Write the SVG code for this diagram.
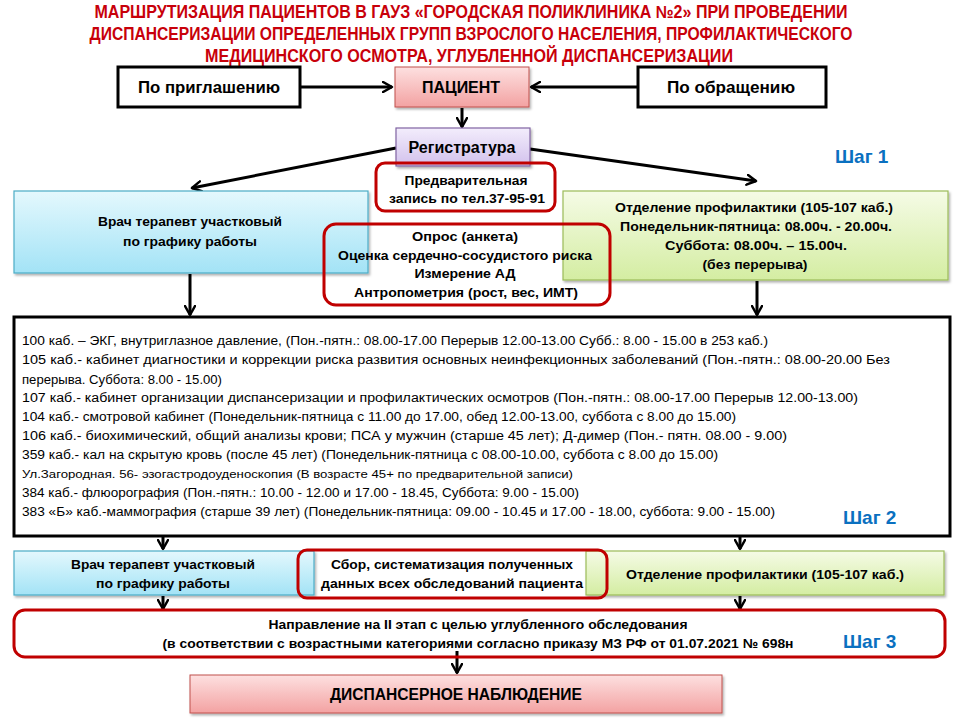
<svg xmlns="http://www.w3.org/2000/svg" width="960" height="720" viewBox="0 0 960 720">
<defs>
<style>
text{font-family:"Liberation Sans","Noto Sans",Arial,sans-serif;fill:#000}
.title{font-size:17.5px;font-weight:bold;fill:#c8000a;text-anchor:middle}
.b{font-weight:bold;font-size:13.5px;text-anchor:middle}
.big{font-weight:bold;font-size:16px;text-anchor:middle}
.list{font-size:12.5px}
.step{font-weight:bold;font-size:19px;fill:#0a70c0}
.blk{fill:#fff;stroke:#000;stroke-width:3}
.red{fill:none;stroke:#c00000;stroke-width:3}
.pink{fill:url(#gPink);stroke:#c0504d;stroke-width:1}
.lav{fill:url(#gLav);stroke:#8064a2;stroke-width:1.2}
.blue{fill:url(#gBlue);stroke:#4bacc6;stroke-width:1.2}
.green{fill:url(#gGreen);stroke:#9bbb59;stroke-width:1.2}
.con{stroke:#000;stroke-width:3;fill:none;marker-end:url(#arr)}
</style>
<linearGradient id="gPink" x1="0" y1="0" x2="0" y2="1"><stop offset="0" stop-color="#fde0e0"/><stop offset="1" stop-color="#f3a2a2"/></linearGradient>
<linearGradient id="gLav" x1="0" y1="0" x2="0" y2="1"><stop offset="0" stop-color="#f3edfc"/><stop offset="1" stop-color="#d2c1ec"/></linearGradient>
<linearGradient id="gBlue" x1="0" y1="0" x2="0" y2="1"><stop offset="0" stop-color="#e4f8fd"/><stop offset="1" stop-color="#a3e3f6"/></linearGradient>
<linearGradient id="gGreen" x1="0" y1="0" x2="0" y2="1"><stop offset="0" stop-color="#f5fbe6"/><stop offset="1" stop-color="#d4eda2"/></linearGradient>
<filter id="sh" x="-5%" y="-10%" width="110%" height="130%"><feDropShadow dx="1.5" dy="2" stdDeviation="1.2" flood-color="#000" flood-opacity="0.3"/></filter>
<marker id="arr" viewBox="0 0 12 12" refX="10" refY="6" markerWidth="12" markerHeight="12" markerUnits="userSpaceOnUse" orient="auto">
<path d="M1,1 L10,6 L1,11" fill="none" stroke="#000" stroke-width="2.5" stroke-linecap="round" stroke-linejoin="round"/>
</marker>
</defs>
<rect width="960" height="720" fill="#fff"/>

<g id="title">
<text class="title" x="471" y="18" textLength="753" lengthAdjust="spacingAndGlyphs">МАРШРУТИЗАЦИЯ ПАЦИЕНТОВ В ГАУЗ «ГОРОДСКАЯ ПОЛИКЛИНИКА №2» ПРИ ПРОВЕДЕНИИ</text>
<text class="title" x="471" y="40" textLength="763" lengthAdjust="spacingAndGlyphs">ДИСПАНСЕРИЗАЦИИ ОПРЕДЕЛЕННЫХ ГРУПП ВЗРОСЛОГО НАСЕЛЕНИЯ, ПРОФИЛАКТИЧЕСКОГО</text>
<text class="title" x="469" y="62" textLength="528" lengthAdjust="spacingAndGlyphs">МЕДИЦИНСКОГО ОСМОТРА, УГЛУБЛЕННОЙ ДИСПАНСЕРИЗАЦИИ</text>
</g>

<g id="connectors">
<line class="con" x1="300" y1="87" x2="392" y2="87"/>
<line class="con" x1="638" y1="87" x2="531" y2="87"/>
<line class="con" x1="462" y1="108" x2="462" y2="127"/>
<line class="con" x1="396" y1="148" x2="192" y2="188"/>
<line class="con" x1="530" y1="149" x2="756" y2="181"/>
<line class="con" x1="190" y1="274" x2="190" y2="315"/>
<line class="con" x1="757" y1="281" x2="757" y2="315"/>
<line class="con" x1="163" y1="537" x2="163" y2="549"/>
<line class="con" x1="740" y1="537" x2="740" y2="549"/>
<line class="con" x1="163" y1="596" x2="163" y2="609"/>
<line class="con" x1="740" y1="596" x2="740" y2="609"/>
<line class="con" x1="457" y1="651" x2="457" y2="673"/>
</g>

<g id="invite">
<rect class="blk" x="118" y="67" width="182" height="40"/>
<text class="big" x="209" y="93" textLength="142" lengthAdjust="spacingAndGlyphs">По приглашению</text>
</g>
<g id="patient">
<rect class="pink" x="395" y="67" width="134" height="40" filter="url(#sh)"/>
<text class="big" x="461" y="93" textLength="78" lengthAdjust="spacingAndGlyphs">ПАЦИЕНТ</text>
</g>
<g id="appeal">
<rect class="blk" x="638" y="67" width="188" height="40"/>
<text class="big" x="731" y="93" textLength="128" lengthAdjust="spacingAndGlyphs">По обращению</text>
</g>

<g id="registry">
<rect class="lav" x="396" y="128" width="134" height="38" filter="url(#sh)"/>
<text class="big" x="462" y="153" textLength="107" lengthAdjust="spacingAndGlyphs">Регистратура</text>
</g>

<g id="step1"><text class="step" x="835" y="163">Шаг 1</text></g>

<g id="doctor1">
<rect class="blue" x="14" y="191" width="354" height="82" filter="url(#sh)"/>
<text class="b" x="190" y="226" textLength="184" lengthAdjust="spacingAndGlyphs">Врач терапевт участковый</text>
<text class="b" x="190" y="246" textLength="134" lengthAdjust="spacingAndGlyphs">по графику работы</text>
</g>

<g id="prevention1">
<rect class="green" x="563" y="191" width="385" height="89" filter="url(#sh)"/>
<text class="b" x="754" y="212" textLength="278" lengthAdjust="spacingAndGlyphs">Отделение профилактики (105-107 каб.)</text>
<text class="b" x="756" y="231" textLength="272" lengthAdjust="spacingAndGlyphs">Понедельник-пятница: 08.00ч. - 20.00ч.</text>
<text class="b" x="756" y="250" textLength="182" lengthAdjust="spacingAndGlyphs">Суббота:  08.00ч. – 15.00ч.</text>
<text class="b" x="755" y="269" textLength="105" lengthAdjust="spacingAndGlyphs">(без перерыва)</text>
</g>

<g id="appointment">
<rect class="red" x="376" y="163" width="179" height="48" rx="9"/>
<text class="b" x="466" y="185" textLength="123" lengthAdjust="spacingAndGlyphs">Предварительная</text>
<text class="b" x="467" y="203" textLength="156" lengthAdjust="spacingAndGlyphs">запись по тел.37-95-91</text>
</g>

<g id="survey">
<rect class="red" x="324" y="224" width="286" height="81" rx="12"/>
<text class="b" x="465" y="241" textLength="106" lengthAdjust="spacingAndGlyphs">Опрос (анкета)</text>
<text class="b" x="465" y="260" textLength="254" lengthAdjust="spacingAndGlyphs">Оценка сердечно-сосудистого риска</text>
<text class="b" x="465" y="278" textLength="101" lengthAdjust="spacingAndGlyphs">Измерение АД</text>
<text class="b" x="466" y="297" textLength="224" lengthAdjust="spacingAndGlyphs">Антропометрия (рост, вес, ИМТ)</text>
</g>

<g id="cabinets">
<rect class="blk" x="14" y="317" width="936" height="219"/>
<text class="list" x="22" y="345" textLength="746" lengthAdjust="spacingAndGlyphs">100 каб. – ЭКГ, внутриглазное давление, (Пон.-пятн.: 08.00-17.00 Перерыв 12.00-13.00  Субб.: 8.00 - 15.00 в 253 каб.)</text>
<text class="list" x="22" y="364" textLength="868" lengthAdjust="spacingAndGlyphs">105 каб.- кабинет диагностики и коррекции риска развития основных неинфекционных заболеваний (Пон.-пятн.: 08.00-20.00 Без</text>
<text class="list" x="22" y="384" textLength="200" lengthAdjust="spacingAndGlyphs">перерыва. Суббота: 8.00 - 15.00)</text>
<text class="list" x="22" y="402" textLength="836" lengthAdjust="spacingAndGlyphs">107 каб.- кабинет организации диспансеризации и профилактических осмотров (Пон.-пятн.: 08.00-17.00 Перерыв 12.00-13.00)</text>
<text class="list" x="22" y="421" textLength="714" lengthAdjust="spacingAndGlyphs">104 каб.- смотровой кабинет (Понедельник-пятница с 11.00 до 17.00, обед 12.00-13.00,  суббота с 8.00 до 15.00)</text>
<text class="list" x="22" y="440" textLength="765" lengthAdjust="spacingAndGlyphs">106 каб.- биохимический, общий анализы крови; ПСА у мужчин (старше 45 лет); Д-димер (Пон.- пятн. 08.00 - 9.00)</text>
<text class="list" x="22" y="459" textLength="696" lengthAdjust="spacingAndGlyphs">359 каб.- кал на скрытую кровь (после 45 лет) (Понедельник-пятница с 08.00-10.00,  суббота с 8.00 до 15.00)</text>
<text class="list" x="22" y="478" textLength="551" lengthAdjust="spacingAndGlyphs" style="font-size:11.5px">Ул.Загородная. 56-  эзогастродоуденоскопия (В возрасте 45+ по предварительной записи)</text>
<text class="list" x="22" y="497" textLength="557" lengthAdjust="spacingAndGlyphs">384 каб.- флюорография (Пон.-пятн.: 10.00 - 12.00 и 17.00 - 18.45, Суббота: 9.00 - 15.00)</text>
<text class="list" x="22" y="516" textLength="753" lengthAdjust="spacingAndGlyphs">383 «Б» каб.-маммография (старше 39 лет) (Понедельник-пятница: 09.00 - 10.45 и 17.00 - 18.00, суббота: 9.00 - 15.00)</text>
</g>

<g id="step2"><text class="step" x="843" y="524">Шаг 2</text></g>

<g id="doctor2">
<rect class="blue" x="14" y="551" width="300" height="44" filter="url(#sh)"/>
<text class="b" x="163" y="569" textLength="184" lengthAdjust="spacingAndGlyphs">Врач терапевт участковый</text>
<text class="b" x="163" y="588" textLength="134" lengthAdjust="spacingAndGlyphs">по графику работы</text>
</g>

<g id="prevention2">
<rect class="green" x="586" y="551" width="358" height="44" filter="url(#sh)"/>
<text class="b" x="765" y="579" textLength="278" lengthAdjust="spacingAndGlyphs">Отделение профилактики (105-107 каб.)</text>
</g>

<g id="collect">
<rect class="red" x="298" y="550" width="309" height="48" rx="9"/>
<text class="b" x="452" y="569" textLength="242" lengthAdjust="spacingAndGlyphs">Сбор, систематизация полученных</text>
<text class="b" x="452" y="588" textLength="262" lengthAdjust="spacingAndGlyphs">данных всех обследований пациента</text>
</g>

<g id="direction">
<rect class="red" x="14" y="610" width="931" height="47" rx="11"/>
<text class="b" x="478" y="629" textLength="419" lengthAdjust="spacingAndGlyphs">Направление на II этап с целью углубленного обследования</text>
<text class="b" x="478" y="648" textLength="631" lengthAdjust="spacingAndGlyphs">(в соответствии с возрастными категориями согласно приказу МЗ РФ от 01.07.2021 № 698н</text>
</g>

<g id="step3"><text class="step" x="843" y="648">Шаг 3</text></g>

<g id="observation">
<rect class="pink" x="190" y="675" width="532" height="38" filter="url(#sh)"/>
<text class="big" x="456" y="700" textLength="252" lengthAdjust="spacingAndGlyphs">ДИСПАНСЕРНОЕ НАБЛЮДЕНИЕ</text>
</g>
</svg>
